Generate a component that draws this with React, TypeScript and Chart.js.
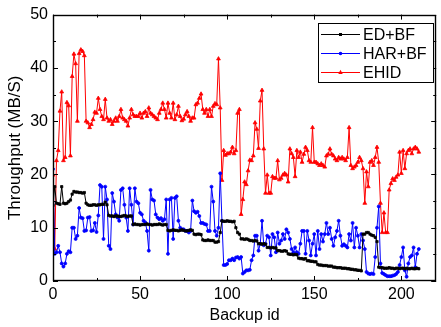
import React, { useEffect, useRef } from 'react';
import { Chart, registerables } from 'chart.js';

Chart.register(...registerables);

// ---- data (backup id = array index, 0..210) ----
const seriesNames = ['ED+BF', 'HAR+BF', 'EHID'];
const seriesColors = ['#000000', '#0000ff', '#ff0000'];

const edbf = [
  14.2, 17.7, 14.6, 14.5, 14.4, 17.7, 14.6, 14.5, 14.6, 14.9, 15.2, 16.3, 16.8, 16.7, 16.7, 16.6, 16.6, 16.5, 16.6, 14.6,
  14.3, 14.2, 14.2, 14.3, 14.3, 14.2, 14.3, 14.3, 14.4, 14.4, 14.8, 14.3,
  12.3, 12.2, 12.2, 12.1, 12.2, 12.2, 12.1, 12.1, 12.2, 12.3, 12.2, 12.1, 12.2, 12.2,
  10.6, 10.7, 10.6, 10.6, 10.5, 10.6, 10.6, 10.6, 10.7, 10.6, 10.6, 10.5, 10.6, 10.6, 10.6, 10.7, 10.6, 10.5, 10.6, 10.6,
  9.5, 9.4, 9.5, 9.6, 9.5, 9.5, 9.4, 9.5, 9.6, 9.5, 9.4, 9.4, 9.5, 9.6, 9.5,
  8.8, 8.7, 8.8, 8.8, 8.7,
  7.7, 7.6, 7.6, 7.7, 7.6, 7.6, 7.6,
  7.3, 7.3, 7.4,
  9.1,
  11.3, 11.2, 11.2, 11.3, 11.2, 11.2, 11.1, 11.2,
  10.0, 9.1, 8.8,
  7.9, 7.9, 7.8, 7.9, 7.8,
  7.6, 7.6, 7.5, 7.6, 7.5,
  7.0, 7.0, 6.9, 7.0, 6.9,
  6.3, 6.3, 6.2, 6.3, 6.2, 6.2,
  5.7, 5.7, 5.6, 5.6, 5.7, 5.6,
  5.1, 5.0, 5.0, 4.9, 5.0, 4.9,
  4.3, 4.2, 4.2, 4.1, 4.2,
  3.8, 3.8, 3.7, 3.7, 3.6, 3.6,
  3.1, 3.0, 3.0, 2.9, 2.9, 2.9, 2.8, 2.8, 2.8,
  2.6, 2.6, 2.5, 2.5, 2.5, 2.4, 2.4, 2.4, 2.3, 2.3,
  2.2, 2.2, 2.1, 2.1, 2.0, 2.0, 1.9,
  8.8, 8.8, 9.1, 9.1, 8.8, 8.6, 8.5, 8.2, 7.4,
  2.6, 2.5, 2.5, 2.4, 2.4, 2.4, 2.5, 2.4, 2.4, 2.3, 2.4, 2.4, 2.3, 2.4, 2.4, 2.3, 2.4, 2.3, 2.3, 2.4, 2.3, 2.3, 2.4, 2.3,
];

const harbf = [
  21, 5.1, 5.4, 6.6, 5.4, 3.3, 2.7, 3.3, 5.1, 5.6, 5.4, 10, 10, 7.9, 8.5, 13.7, 11.9, 11.8, 9.4, 9.5,
  11.9, 12, 9.4, 9.5, 10.9, 9.2, 12.3, 18, 17.7, 7.9, 17.7, 15.3, 6.6, 6, 16.5, 14.9,
  12.5, 11.9, 11.3, 17.1, 17.4, 14.3, 11.9, 9.4, 17.4, 14.3, 10.6, 17.4, 14.9, 14.6, 12.8, 12.5, 11.3, 11, 9.4, 5.7,
  17.1, 15.3, 15.1, 12.5, 11.9, 11.6, 11.8, 11.3, 11.6, 15.3, 5.1, 15.3, 15.6, 7.9, 15.6, 15.9, 11.3, 10, 9.7, 9.7,
  9.4, 9.4, 9.1, 9.4, 15.1, 13.1, 12.8, 13.0, 12.2, 10.9, 10.9, 10.7, 10.6, 9.4, 9.4, 17.7, 14.9, 9.4, 8.5, 10,
  20.2, 11.3, 3, 3, 3.2, 3.9, 3.9, 4.2, 3.9, 4.4, 4.5, 4.2, 4.5, 1.4, 1.7, 2.0, 2.0,
  2.1, 3.9, 4.8, 8.5, 8.5, 5.7, 7, 11.3, 6.7, 7, 8.5, 8.2, 4.8, 8.8, 8.2, 5.4, 9.1, 7, 7.6, 8.8,
  7.9, 9.7, 9.1, 7.9, 6, 5.4, 6.3, 5.4, 5.1, 7, 9.4, 9.4, 5.1, 9.4, 7.6, 4.8, 7, 8.8,
  4.8, 9.4, 6, 8.8, 7.4, 8.8, 10.9, 8.8, 10, 7.9, 6.6, 8.2, 9.4, 11.3, 8.5, 6.6, 6.9, 6.6, 6.3, 8.8,
  7.6, 10.9, 6.3, 10, 8.5, 6.3, 8.8, 7.6, 6,
  1.7, 1.4, 1.3, 1.4, 1.3, 4.5, 10, 14, 3.3, 1.5, 1.3, 1.1, 0.9, 0.9, 0.9, 1.0, 1.1, 1.3, 1.7, 3,
  4.5, 6.3, 2, 0.8, 3.3, 4.5, 4.8, 6.3, 2.6, 5.1, 6,
];

const ehid = [
  19.9, 6, 22.6, 24.5, 31.9, 35.5, 22.6, 23.2, 33.5, 32.9, 23.5, 38.4, 42.6, 40.8, 30, 42.7, 43.4, 43.1, 42.3, 30,
  29.7, 28.8, 29.4, 30.3, 31.7, 31.5, 34.3, 32.2, 30.9, 30.3, 34.1, 30.6, 30, 30.3, 29.4, 30,
  30.6, 30, 30.9, 32.2, 30.6, 30.3, 30, 29.1, 30.6, 32.2, 31.2, 30.9, 30.9, 30.9, 31.5, 30.6, 31.5, 31.8, 30.9, 32.5,
  31.5, 31.2, 30.9, 30.6, 30.3, 31.5, 32.2, 33.4, 32.2, 30.6, 33.4, 31.5, 30.6, 33.4, 30.3, 31.2, 32.8, 30.9,
  30.1, 30.4, 31.2, 31.8, 30.9, 30, 30.6, 30.6, 33.1, 33.4, 34.3, 35.1, 32.2, 31.5, 32.2, 30.9, 32.2, 30.9, 32.8, 33.3,
  33.1, 41.7, 32.5, 18.9, 24.5, 23.6, 23.9, 23.9, 24.2, 25.1, 23.9, 24.5, 31.5, 32.2,
  12.5, 15.3, 18.6, 18.1, 20.7, 22.7, 22.6, 23.5, 29.7, 28.5, 24.9, 33.8, 35.8,
  24.8, 16.5, 19.9, 16.5, 16.5, 19.6, 19.3, 19.3, 22.6, 19, 19.3, 19.9, 20.2, 19.9, 18.6, 24.8, 23.9, 23.2, 19.6, 24.5,
  23.2, 24.2, 22.3, 23.8, 25.1, 24.5, 22.6, 22.3, 28.8,
  22.3, 22.3, 22, 21.7, 22, 21.7, 21.4, 23.5, 23.8, 24.8, 23.8, 23.5, 22.9, 22.6, 23.2, 22.9, 23.2, 22.9, 22.6, 23.2,
  28.8, 21.7, 21.1, 21.4, 21.7, 22.3, 23.2, 22.6, 21.1, 14.6, 20.5, 17.7, 22.3, 22.6, 21.7, 23.2,
  25.1, 22.3, 14.6, 9.1, 12.8, 9.1, 9.1, 17.1, 18.3, 19.2, 18.9, 19.5, 19.9, 24.2, 20.2, 24.5, 21.1, 23.9, 24.5, 24.8,
  23.9, 24.8, 25.1, 24.8, 24.2,
];

const xTicks = [0, 50, 100, 150, 200];
const yTicks = [0, 10, 20, 30, 40, 50];
const xMinorStep = 25;
const yMinorStep = 5;

const FONT = '"Liberation Sans", Arial, Helvetica, sans-serif';

const toPoints = (arr: number[]) => arr.map((v, i) => ({ x: i, y: v }));

function drawMarker(ctx: CanvasRenderingContext2D, style: string, x: number, y: number, r: number, color: string) {
  ctx.save();
  ctx.fillStyle = color;
  ctx.strokeStyle = color;
  ctx.beginPath();
  if (style === 'rect') {
    ctx.rect(x - r, y - r, 2 * r, 2 * r);
  } else if (style === 'triangle') {
    ctx.moveTo(x, y - r * 1.2);
    ctx.lineTo(x + r, y + r * 0.7);
    ctx.lineTo(x - r, y + r * 0.7);
    ctx.closePath();
  } else {
    ctx.arc(x, y, r, 0, Math.PI * 2);
  }
  ctx.fill();
  ctx.restore();
}

const framePlugin = {
  id: 'frame',
  afterDatasetsDraw(chart: any) {
    const { ctx, chartArea: a, scales } = chart;
    const xs = scales.x;
    const ys = scales.y;
    ctx.save();
    ctx.strokeStyle = '#000';
    ctx.lineWidth = 1;
    ctx.beginPath();
    for (let v = xs.min; v <= xs.max; v += xMinorStep) {
      const px = Math.round(xs.getPixelForValue(v)) + 0.5;
      const len = xTicks.includes(v) ? 5 : 3;
      ctx.moveTo(px, a.bottom);
      ctx.lineTo(px, a.bottom - len);
      ctx.moveTo(px, a.top);
      ctx.lineTo(px, a.top + len);
    }
    for (let v = ys.min; v <= ys.max; v += yMinorStep) {
      const py = Math.round(ys.getPixelForValue(v)) + 0.5;
      const len = yTicks.includes(v) ? 5 : 3;
      ctx.moveTo(a.left, py);
      ctx.lineTo(a.left + len, py);
      ctx.moveTo(a.right, py);
      ctx.lineTo(a.right - len, py);
    }
    ctx.stroke();
    ctx.lineWidth = 1.4;
    ctx.strokeRect(Math.round(a.left) + 0.5, Math.round(a.top) + 0.5, Math.round(a.right - a.left) - 1, Math.round(a.bottom - a.top) - 1);

    // legend box (top-right inside plot)
    const bw = 115;
    const bh = 59;
    const bx = Math.round(a.right) - 3 - bw;
    const by = Math.round(a.top) + 8;
    ctx.fillStyle = '#fff';
    ctx.fillRect(bx, by, bw, bh);
    ctx.lineWidth = 1;
    ctx.strokeStyle = '#000';
    ctx.strokeRect(bx + 0.5, by + 0.5, bw, bh);
    const styles = ['rect', 'circle', 'triangle'];
    const radii = [1.5, 1.8, 2.2];
    ctx.font = '16px ' + FONT;
    ctx.textBaseline = 'middle';
    ctx.textAlign = 'left';
    for (let i = 0; i < seriesNames.length; i++) {
      const yy = by + 11.5 + i * 19;
      ctx.strokeStyle = seriesColors[i];
      ctx.lineWidth = 1;
      ctx.beginPath();
      ctx.moveTo(bx + 3, yy);
      ctx.lineTo(bx + 42, yy);
      ctx.stroke();
      drawMarker(ctx, styles[i], bx + 22.5, yy, radii[i], seriesColors[i]);
      ctx.fillStyle = '#000';
      ctx.fillText(seriesNames[i], bx + 45, yy + 1);
    }
    ctx.restore();
  },
};

export default function App() {
  const ref = useRef<HTMLCanvasElement | null>(null);

  useEffect(() => {
    if (!ref.current) return;
    const mk = (label: string, data: number[], color: string, style: string, r: number) => ({
      label,
      data: toPoints(data),
      borderColor: color,
      backgroundColor: color,
      borderWidth: 1,
      pointStyle: style,
      pointRadius: r,
      pointBorderWidth: 0.8,
      pointBackgroundColor: color,
      pointBorderColor: color,
      tension: 0,
    });
    const chart = new Chart(ref.current, {
      type: 'line',
      data: {
        datasets: [
          mk(seriesNames[0], edbf, seriesColors[0], 'rect', 1.6),
          mk(seriesNames[1], harbf, seriesColors[1], 'circle', 1.5),
          mk(seriesNames[2], ehid, seriesColors[2], 'triangle', 2.2),
        ],
      },
      options: {
        animation: false,
        responsive: false,
        devicePixelRatio: 1,
        layout: { padding: { top: 10, right: 4, left: 0, bottom: 0 } },
        plugins: { legend: { display: false }, tooltip: { enabled: false } },
        scales: {
          x: {
            type: 'linear',
            min: 0,
            max: 220,
            afterBuildTicks: (s: any) => {
              s.ticks = xTicks.map((v) => ({ value: v }));
            },
            afterFit: (s: any) => {
              s.height = 46;
            },
            grid: { display: false, drawTicks: false },
            border: { display: false },
            ticks: { color: '#000', font: { family: FONT, size: 16 }, padding: 4, maxRotation: 0 },
            title: {
              display: true,
              text: 'Backup id',
              color: '#000',
              font: { family: FONT, size: 16 },
              padding: { top: 0, bottom: 2 },
            },
          },
          y: {
            type: 'linear',
            min: 0,
            max: 50,
            afterBuildTicks: (s: any) => {
              s.ticks = yTicks.map((v) => ({ value: v }));
            },
            afterFit: (s: any) => {
              s.width = 53;
            },
            grid: { display: false, drawTicks: false },
            border: { display: false },
            ticks: { color: '#000', font: { family: FONT, size: 16 }, padding: 5 },
            title: {
              display: true,
              text: 'Throughput (MB/S)',
              color: '#000',
              font: { family: FONT, size: 17 },
              padding: { top: 5, bottom: 0 },
            },
          },
        },
      },
      plugins: [framePlugin],
    } as any);
    return () => chart.destroy();
  }, []);

  return (
    <div style={{ position: 'absolute', left: 0, top: 0, width: 441, height: 327, background: '#fff' }}>
      <canvas ref={ref} width={441} height={327} />
    </div>
  );
}
